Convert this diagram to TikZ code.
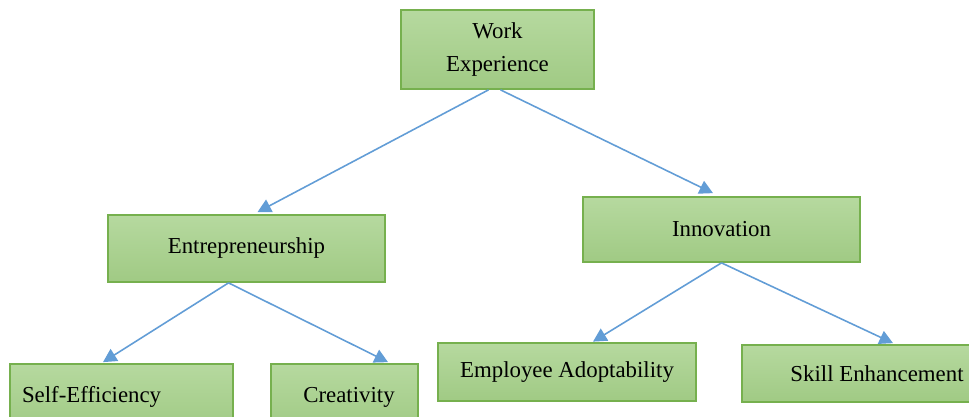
\documentclass[tikz,border=0pt]{standalone}
\usepackage{fontspec}
\setmainfont{Liberation Serif}
\usetikzlibrary{arrows.meta}

\definecolor{boxedge}{RGB}{118,176,78}
\definecolor{boxtop}{RGB}{182,217,159}
\definecolor{boxbot}{RGB}{160,202,132}
\definecolor{linkblue}{RGB}{98,157,214}

\begin{document}
\begin{tikzpicture}[
    x=0.02cm, y=-0.02cm,
    box/.style={draw=boxedge, line width=1pt, top color=boxtop, bottom color=boxbot,
                inner sep=0pt, align=center, font=\fontsize{13}{19}\selectfont},
    link/.style={-{Triangle[length=2.7mm, width=2.8mm]}, draw=linkblue, line width=0.9pt}
]

% page frame
\useasboundingbox (0,0) rectangle (969,416);

% top level
\node[box, minimum width=3.86cm, minimum height=1.58cm] (work) at (497.5,49.5) {Work\\Experience};

% second level
\node[box, minimum width=5.54cm, minimum height=1.34cm] (entre) at (246.5,248.5) {Entrepreneurship};
\node[box, minimum width=5.54cm, minimum height=1.30cm] (innov) at (721.5,229.5) {Innovation};

% third level
\node[box, minimum height=1.32cm, text width=3.98cm, inner xsep=0.24cm, align=left] (self) at (121.5,397) {Self-Efficiency};
\node[box, minimum width=2.94cm, minimum height=1.32cm] (creat) at (344.5,397) {\hspace{0.18cm}Creativity};
\node[box, minimum width=5.16cm, minimum height=1.16cm] (emp) at (567,372) {Employee Adoptability};
\node[box, minimum width=5.40cm, minimum height=1.14cm] (skill) at (877,373.5) {Skill Enhancement};

% end points of the arrows
\coordinate (wl) at ([xshift=-0.18cm]work.south);
\coordinate (wr) at ([xshift=0.06cm]work.south);
\coordinate (eb) at ([xshift=-0.36cm]entre.south);

% connectors
\draw[link] (wl) -- ([xshift=0.22cm, yshift=0.04cm]entre.north);
\draw[link] (wr) -- ([xshift=-0.17cm, yshift=0.06cm]innov.north);
\draw[link] (eb) -- ([xshift=-0.37cm, yshift=0.02cm]self.north);
\draw[link] (eb) -- ([xshift=0.87cm, yshift=0.02cm]creat.north);
\draw[link] (innov.south) -- ([xshift=0.52cm, yshift=0.01cm]emp.north);
\draw[link] (innov.south) -- ([xshift=0.32cm, yshift=0.02cm]skill.north);

\end{tikzpicture}
\end{document}
